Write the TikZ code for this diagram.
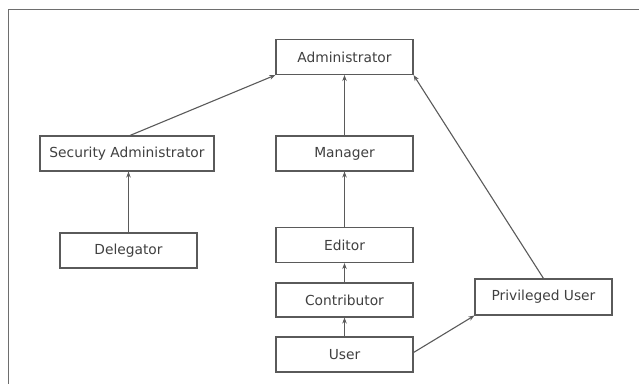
\documentclass[tikz,border=0pt]{standalone}
\usepackage{fontspec}
\setmainfont{DejaVu Sans}
\usetikzlibrary{arrows.meta}
\definecolor{linegray}{HTML}{5A5A5A}
\definecolor{framegray}{HTML}{6E6E6E}
\definecolor{textgray}{HTML}{404040}
\begin{document}
\begin{tikzpicture}[x=1pt,y=-1pt,
  role/.style={draw=linegray, line width=1.1pt, fill=white, inner sep=0pt,
    minimum width=137pt, minimum height=35pt, text=textgray,
    font=\fontsize{13.8pt}{16pt}\selectfont},
  link/.style={draw=linegray, line width=1.1pt,
    -{Stealth[length=6pt,width=4.5pt]}}]
  \useasboundingbox (0,0) rectangle (639,384);
  % outer frame: only its top and left edges fall inside the picture
  \coordinate (ftop) at (639,9.5);
  \coordinate (fcorner) at (8.5,9.5);
  \coordinate (fbottom) at (8.5,384);
  \draw[framegray, line width=1.3pt] (ftop) -- (fcorner) -- (fbottom);

  \node[role] (admin) at (344.5,57) {Administrator};
  \node[role, minimum width=174pt] (secadmin) at (127,153.5) {Security Administrator};
  \node[role] (manager) at (344.5,153.5) {Manager};
  \node[role] (delegator) at (128.5,250.5) {Delegator};
  \node[role] (editor) at (344.5,245) {Editor};
  \node[role, minimum height=34pt] (contrib) at (344.5,300) {Contributor};
  \node[role] (user) at (344.5,354.5) {User};
  \node[role, minimum height=36pt] (priv) at (543.5,297) {Privileged User};

  \draw[link] (secadmin.north) ++(3,0) -- (admin.south west);
  \draw[link] (delegator.north) -- (secadmin.south -| delegator.north);
  \draw[link] (manager) -- (admin);
  \draw[link] (editor) -- (manager);
  \draw[link] (contrib) -- (editor);
  \draw[link] (user) -- (contrib);
  \draw[link] (user.east) ++(0,-2) -- (priv.south west);
  \draw[link] (priv.north) -- (admin.south east);
\end{tikzpicture}
\end{document}
